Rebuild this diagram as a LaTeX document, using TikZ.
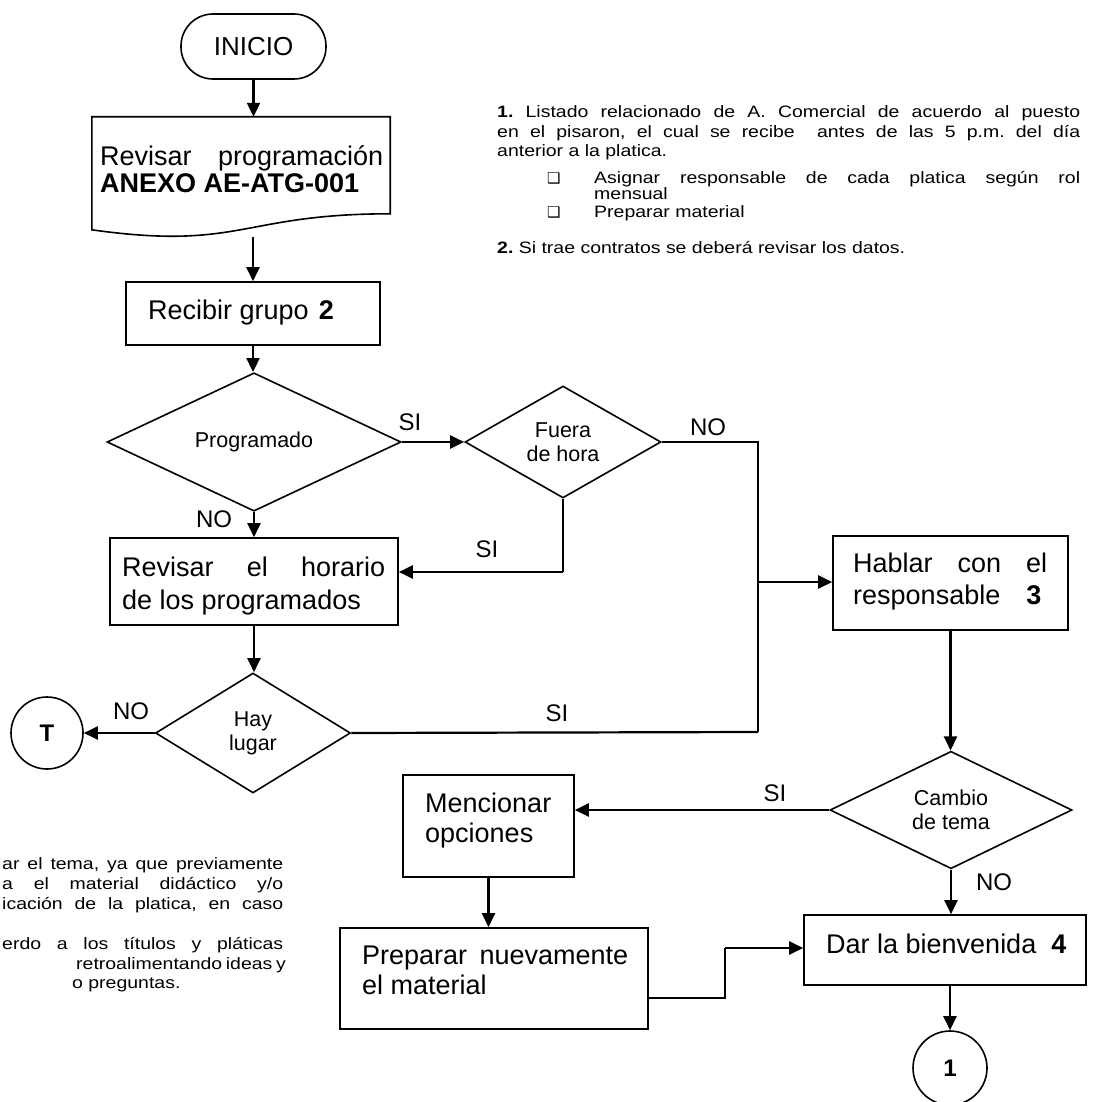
\documentclass[tikz,border=0pt]{standalone}
\usepackage{fontspec}
\setmainfont{Liberation Sans}
\newfontfamily\notefont[FakeStretch=1.18]{Liberation Sans}
\newfontfamily\dejavu{DejaVu Sans}
\usetikzlibrary{arrows.meta,shapes.geometric,calc}
\frenchspacing
\tikzset{
  box/.style={draw, line width=1.6pt, rectangle, inner sep=0pt},
  dia/.style={draw, line width=1.6pt, diamond, inner sep=0pt, align=center, font=\fontsize{21.5}{24}\selectfont},
  conn/.style={line width=2.2pt, -{Triangle[length=14pt,width=13pt]}},
  wire/.style={line width=2.2pt},
  btext/.style={inner sep=0pt, anchor=base west, align=left},
  lbl/.style={inner sep=0pt, font=\fontsize{24}{26}\selectfont},
  note/.style={inner sep=0pt, anchor=base west, font=\notefont\fontsize{16.5}{19}\selectfont\frenchspacing},
  circ/.style={draw, line width=1.6pt, circle, inner sep=0pt, font=\bfseries\fontsize{24}{26}\selectfont},
}
\begin{document}
\begin{tikzpicture}[x=1pt,y=-1pt]
\useasboundingbox (0,0) rectangle (1093,1102);

% ---- shapes ----
\node[draw, line width=1.6pt, rounded corners=32pt, minimum width=145pt, minimum height=65pt, inner sep=0pt,
      font=\fontsize{26}{30}\selectfont] (inicio) at (253.5,46.5) {INICIO};

\node[inner sep=0pt, minimum width=298pt, minimum height=121pt] (doc) at (241,177.5) {};
\draw[line width=1.6pt] (doc.north west) -- (doc.north east) -- ($(doc.north east)+(0,97)$)
   .. controls ($(doc.north)+(0,97)$) and ($(doc.north)+(0,134)$) .. ($(doc.north west)+(0,113)$) -- cycle;
\coordinate (docb) at (253,237);
\node[btext, font=\fontsize{27}{26.5}\selectfont] (tdoc) at (100,192.5) {\makebox[283pt][s]{Revisar programación}\\\textbf{ANEXO AE-ATG-001}};

\node[box, minimum width=254pt, minimum height=63pt] (recibir) at (253,313.5) {};
\node[btext, font=\fontsize{27}{31}\selectfont] (trecibir) at (148,319) {Recibir grupo\hspace{10pt}\textbf{2}};

\node[dia, minimum width=294pt, minimum height=94pt] (prog) at (254,442) {Programado};
\node[dia, minimum width=196pt, minimum height=112pt] (fuera) at (563,442) {Fuera\\de hora};

\node[box, minimum width=288pt, minimum height=87pt] (revh) at (254,581.5) {};
\node[btext, font=\fontsize{27}{33}\selectfont] (trevh) at (122,609) {\makebox[263pt][s]{Revisar el horario}\\de los programados};

\node[dia, minimum width=195pt, minimum height=120pt] (hay) at (253,733) {Hay\\lugar};
\node[circ, minimum size=72pt] (T) at (47,733) {T};

\node[box, minimum width=235pt, minimum height=94pt] (hablar) at (950.5,583) {};
\node[btext, font=\fontsize{27}{32}\selectfont] (thablar) at (853,604) {\makebox[194pt][s]{Hablar con el}\\responsable\hspace{26pt}\textbf{3}};

\node[dia, minimum width=242pt, minimum height=110pt] (cambio) at (951,810) {Cambio\\de tema};

\node[box, minimum width=171pt, minimum height=102pt] (menc) at (488.5,826) {};
\node[btext, font=\fontsize{27}{30}\selectfont] (tmenc) at (425,842) {Mencionar\\opciones};

\node[box, minimum width=308pt, minimum height=101pt] (prep) at (494,978.5) {};
\node[btext, font=\fontsize{27}{30}\selectfont] (tprep) at (362,994) {\makebox[266pt][s]{Preparar nuevamente}\\el material};

\node[box, minimum width=282pt, minimum height=70pt] (dar) at (945,950) {};
\node[btext, font=\fontsize{27}{31}\selectfont] (tdar) at (826,953) {Dar la bienvenida\hspace{15pt}\textbf{4}};

\node[circ, minimum size=74pt] (one) at (950,1068) {1};

% ---- connectors ----
\draw[conn] (inicio.south) -- (doc.north -| inicio.south);
\draw[conn] (docb) -- (recibir.north -| docb);
\draw[conn] (recibir.south) -- (prog.north -| recibir.south);
\draw[conn] (prog.east) -- (fuera.west);
\draw[conn] (prog.south) -- (revh.north -| prog.south);
\coordinate (c1) at (563,572);
\draw[wire] (fuera.south) -- (c1);
\draw[conn] (c1) -- (revh.east |- c1);
\coordinate (c2) at (758,442);
\coordinate (c3) at (758,732);
\draw[wire] (fuera.east) -- (c2) -- (c3);
\draw[wire] (hay.east) -- (c3);
\coordinate (c4) at (758,582);
\draw[conn] (c4) -- (hablar.west |- c4);
\draw[conn] (revh.south) -- (hay.north -| revh.south);
\draw[conn] (hay.west) -- (T.east);
\draw[conn] (hablar.south) -- (cambio.north -| hablar.south);
\draw[conn] (cambio.west) -- (menc.east |- cambio.west);
\draw[conn] (cambio.south) -- (dar.north -| cambio.south);
\draw[conn] (menc.south) -- (prep.north -| menc.south);
\coordinate (c5) at (725,998);
\coordinate (c6) at (725,948);
\draw[wire] (prep.east |- c5) -- (c5) -- (c6);
\draw[conn] (c6) -- (dar.west |- c6);
\draw[conn] (dar.south -| one.north) -- (one.north);

% ---- labels ----
\node[lbl] (l1) at (410,422) {SI};
\node[lbl] (l2) at (214,519) {NO};
\node[lbl] (l3) at (487,549) {SI};
\node[lbl] (l4) at (708,427) {NO};
\node[lbl] (l5) at (131,711) {NO};
\node[lbl] (l6) at (557,713) {SI};
\node[lbl] (l7) at (775,793) {SI};
\node[lbl] (l8) at (994,882) {NO};

% ---- notes top right ----
\node[note] (n1) at (497,118) {\makebox[583pt][s]{\textbf{1.} Listado relacionado de A. Comercial de acuerdo al puesto}};
\node[note] (n2) at (497,137.5) {\makebox[583pt][s]{en el pisaron, el cual se recibe\ \ antes de las 5 p.m. del día}};
\node[note] (n3) at (497,157) {anterior a la platica.};
\node[note] (b1) at (547,183) {{\dejavu\fontsize{15}{15}\selectfont ❑}};
\node[note] (n4) at (594,183) {\makebox[486pt][s]{Asignar responsable de cada platica según rol}};
\node[note] (n5) at (594,200) {mensual};
\node[note] (b2) at (547,217) {{\dejavu\fontsize{15}{15}\selectfont ❑}};
\node[note] (n6) at (594,217) {Preparar material};
\node[note] (n7) at (497,253) {\textbf{2.} Si trae contratos se deberá revisar los datos.};

% ---- notes bottom left ----
\node[note] (m1) at (2,869) {\makebox[281pt][s]{ar el tema, ya que previamente}};
\node[note] (m2) at (2,889) {\makebox[281pt][s]{a el material didáctico y/o}};
\node[note] (m3) at (2,909) {\makebox[281pt][s]{icación de la platica, en caso}};
\node[note] (m4) at (2,949) {\makebox[281pt][s]{erdo a los títulos y pláticas}};
\node[note] (m5) at (76,969) {\makebox[207pt][s]{retroalimentando ideas y}};
\node[note] (m6) at (72,988) {o preguntas.};
\end{tikzpicture}
\end{document}
